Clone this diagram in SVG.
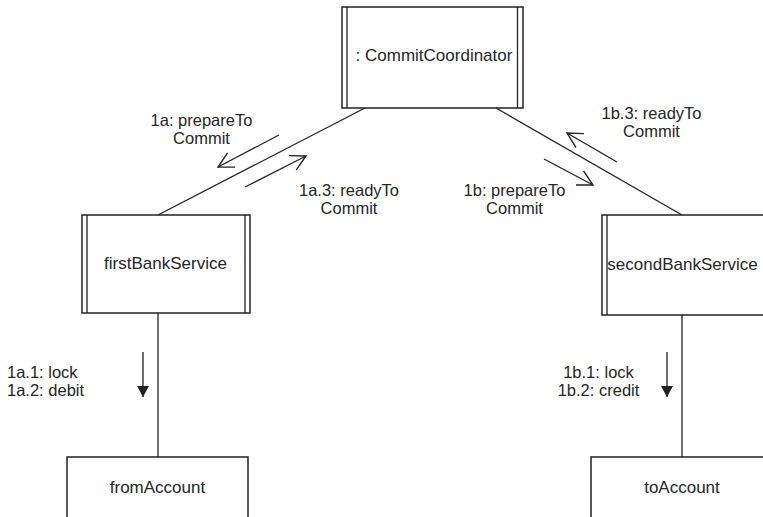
<svg xmlns="http://www.w3.org/2000/svg" width="763" height="517" viewBox="0 0 763 517">
<style>
.box{fill:#fff;stroke:#222;stroke-width:1.5}
.dbl{stroke:#222;stroke-width:1.3;fill:none}
.ln{stroke:#222;stroke-width:1.3;fill:none}
.nt{font-family:"Liberation Sans",Arial,sans-serif;font-size:17px;fill:#262626;text-anchor:middle}
.mt{font-family:"Liberation Sans",Arial,sans-serif;font-size:16.5px;fill:#262626}
.c{text-anchor:middle}
</style>
<defs>
<marker id="open" markerUnits="userSpaceOnUse" markerWidth="24" markerHeight="24" viewBox="-18 -12 24 24" refX="0" refY="0" orient="auto">
<path d="M -15 -8 L 0 0 L -15 8" fill="none" stroke="#222" stroke-width="1.4"/>
</marker>
<marker id="fill" markerUnits="userSpaceOnUse" markerWidth="20" markerHeight="20" viewBox="-15 -10 20 20" refX="0" refY="0" orient="auto">
<path d="M -11 -6 L 0 0 L -11 6 Z" fill="#222" stroke="none"/>
</marker>
</defs>
<g id="connectors">
<line class="ln" x1="365" y1="108" x2="158" y2="215"/>
<line class="ln" x1="496" y1="108" x2="682" y2="215"/>
<line class="ln" x1="158" y1="313" x2="158" y2="457"/>
<line class="ln" x1="682" y1="315" x2="682" y2="457"/>
</g>
<g id="messages">
<line class="ln" x1="279" y1="135" x2="218" y2="167" marker-end="url(#open)"/>
<line class="ln" x1="245" y1="187" x2="306" y2="156" marker-end="url(#open)"/>
<line class="ln" x1="617" y1="162" x2="567" y2="133" marker-end="url(#open)"/>
<line class="ln" x1="544" y1="159" x2="593" y2="185" marker-end="url(#open)"/>
<line class="ln" x1="143" y1="352" x2="143" y2="397" marker-end="url(#fill)"/>
<line class="ln" x1="667" y1="352" x2="667" y2="397" marker-end="url(#fill)"/>
<text class="mt c" x="201.5" y="126">1a: prepareTo</text>
<text class="mt c" x="201.5" y="144">Commit</text>
<text class="mt c" x="349" y="196">1a.3: readyTo</text>
<text class="mt c" x="349" y="214">Commit</text>
<text class="mt c" x="651.5" y="119">1b.3: readyTo</text>
<text class="mt c" x="651.5" y="137">Commit</text>
<text class="mt c" x="514.5" y="196">1b: prepareTo</text>
<text class="mt c" x="514.5" y="214">Commit</text>
<text class="mt" x="7" y="378">1a.1: lock</text>
<text class="mt" x="7" y="396">1a.2: debit</text>
<text class="mt c" x="598.5" y="378">1b.1: lock</text>
<text class="mt c" x="598.5" y="396">1b.2: credit</text>
</g>
<g id="commitCoordinator">
<rect class="box" x="342" y="7" width="181" height="101"/>
<line class="dbl" x1="347" y1="7" x2="347" y2="108"/>
<line class="dbl" x1="517.5" y1="7" x2="517.5" y2="108"/>
<text class="nt" x="434" y="61">: CommitCoordinator</text>
</g>
<g id="firstBankService">
<rect class="box" x="82" y="215" width="168" height="98"/>
<line class="dbl" x1="87" y1="215" x2="87" y2="313"/>
<line class="dbl" x1="245" y1="215" x2="245" y2="313"/>
<text class="nt" x="165.5" y="269">firstBankService</text>
</g>
<g id="secondBankService">
<rect class="box" x="602" y="215" width="170" height="100"/>
<line class="dbl" x1="607" y1="215" x2="607" y2="315"/>
<text class="nt" x="682.5" y="270">secondBankService</text>
</g>
<g id="fromAccount">
<rect class="box" x="67" y="457" width="181" height="70"/>
<text class="nt" x="157.5" y="493">fromAccount</text>
</g>
<g id="toAccount">
<rect class="box" x="591" y="457" width="182" height="70"/>
<text class="nt" x="682" y="493">toAccount</text>
</g>
</svg>
